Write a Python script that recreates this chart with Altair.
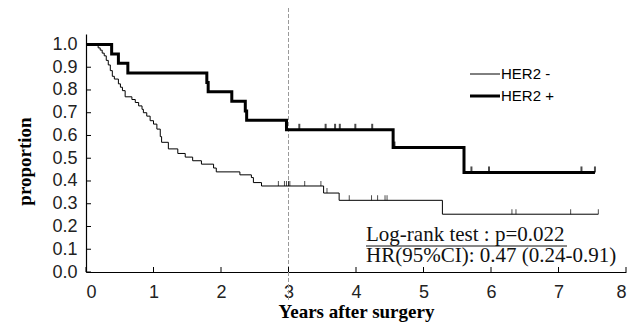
import altair as alt
import pandas as pd
import numpy as np

# ---- data ----
groups = ["HER2 -", "HER2 +"]

neg_t = [0, 0.18, 0.21, 0.24, 0.27, 0.30, 0.33, 0.36, 0.39, 0.42, 0.48, 0.51, 0.54,
         0.58, 0.68, 0.73, 0.78, 0.83, 0.85, 0.90, 0.95, 1.00, 1.05, 1.10, 1.12, 1.22,
         1.36, 1.47, 1.58, 1.71, 1.89, 1.93, 2.28, 2.45, 2.48, 2.60, 3.52, 3.75, 5.28, 7.59]
neg_s = [1.0, 0.985, 0.975, 0.962, 0.950, 0.930, 0.910, 0.885, 0.860, 0.848, 0.827, 0.812, 0.797,
         0.770, 0.758, 0.745, 0.730, 0.715, 0.700, 0.685, 0.665, 0.650, 0.628, 0.595, 0.570, 0.541,
         0.521, 0.505, 0.489, 0.474, 0.457, 0.440, 0.427, 0.415, 0.393, 0.378, 0.347, 0.315, 0.254, 0.254]

pos_t = [0, 0.38, 0.48, 0.62, 1.79, 1.81, 2.16, 2.36, 2.38, 2.97, 4.55, 5.60, 7.54]
pos_s = [1.0, 0.958, 0.917, 0.875, 0.833, 0.792, 0.750, 0.708, 0.667, 0.625, 0.547, 0.4375, 0.4375]

neg_cens = [2.85, 2.94, 2.97, 3.00, 3.02, 3.24, 3.48, 3.57, 3.90, 4.23, 4.32, 4.43, 4.46,
            6.31, 6.37, 7.18, 7.59]
pos_cens = [3.16, 3.55, 3.69, 3.76, 3.99, 4.24, 4.57, 5.71, 5.97, 7.34, 7.54]

x_ticks = [0, 1, 2, 3, 4, 5, 6, 7, 8]
y_ticks = [0.0, 0.1, 0.2, 0.3, 0.4, 0.5, 0.6, 0.7, 0.8, 0.9, 1.0]
cut_year = [3]

logrank_text = "Log-rank test : p=0.022"
hr_text = "HR(95%CI): 0.47 (0.24-0.91)"
x_title = "Years after surgery"
y_title = "proportion"


def level(ts, ss, t):
    i = int(np.searchsorted(ts, t, side="right")) - 1
    return ss[i]


curves = pd.concat([
    pd.DataFrame({"t": neg_t, "s": neg_s, "group": groups[0]}),
    pd.DataFrame({"t": pos_t, "s": pos_s, "group": groups[1]}),
])
cens_neg = pd.DataFrame({"t": neg_cens, "s": [level(neg_t, neg_s, c) for c in neg_cens]})
cens_pos = pd.DataFrame({"t": pos_cens, "s": [level(pos_t, pos_s, c) for c in pos_cens]})

W, H = 540, 238
xs = alt.Scale(domain=[0, 8], nice=False)
ys = alt.Scale(domain=[0, 1.046], nice=False)

x_axis = alt.Axis(values=x_ticks, tickCount=9, format="d", ticks=False, tickSize=0, grid=False,
                  domainColor="black", domainWidth=1.2, labelFont="Liberation Sans",
                  labelFontSize=18, labelColor="#222", labelPadding=11, labelOverlap=False,
                  titleFont="Liberation Serif", titleFontSize=19, titleFontWeight="bold",
                  titleColor="black", titlePadding=1)
y_axis = alt.Axis(values=y_ticks, tickCount=11, format=".1f", ticks=False, tickSize=0, grid=False,
                  domainColor="black", domainWidth=1.2, labelFont="Liberation Sans",
                  labelFontSize=18, labelColor="#222", labelPadding=9, labelOverlap=False,
                  titleFont="Liberation Serif", titleFontSize=19, titleFontWeight="bold",
                  titleColor="black", titleX=-62, titleY=127, titleAlign="center",
                  titleBaseline="middle", titleAngle=270)


def X(field="t"):
    return alt.X(f"{field}:Q", scale=xs, axis=x_axis, title=x_title)


def Y(field="s"):
    return alt.Y(f"{field}:Q", scale=ys, axis=y_axis, title=y_title)


dashed = alt.Chart(pd.DataFrame({"t": cut_year})).mark_rule(
    color="#9a9a9a", strokeDash=[4, 2], strokeWidth=1
).encode(x=X(), y=alt.value(-26), y2=alt.value(266))

lines = alt.Chart(curves).mark_line(interpolate="step-after", color="black").encode(
    x=X(), y=Y(),
    strokeWidth=alt.StrokeWidth("group:N", scale=alt.Scale(domain=groups, range=[1, 3]), legend=None),
    detail="group:N",
)

ticks_neg = alt.Chart(cens_neg).mark_tick(orient="vertical", color="black", size=5,
                                          thickness=1, yOffset=-2.5).encode(x=X(), y=Y())
ticks_pos = alt.Chart(cens_pos).mark_tick(orient="vertical", color="black", size=6,
                                          thickness=2, yOffset=-3).encode(x=X(), y=Y())

xt = alt.Chart(pd.DataFrame({"t": x_ticks})).mark_rule(color="black", strokeWidth=1).encode(
    x=X(), y=alt.value(H), y2=alt.value(H - 5))
yt = alt.Chart(pd.DataFrame({"s": y_ticks})).mark_rule(color="black", strokeWidth=1).encode(
    y=Y(), x=alt.value(0), x2=alt.value(5))

leg_df0 = pd.DataFrame({"label": [groups[0]]})
leg_df1 = pd.DataFrame({"label": [groups[1]]})
leg_line0 = alt.Chart(leg_df0).mark_rule(color="black", strokeWidth=1).encode(
    x=alt.value(384), x2=alt.value(414), y=alt.value(40))
leg_line1 = alt.Chart(leg_df1).mark_rule(color="black", strokeWidth=3).encode(
    x=alt.value(384), x2=alt.value(414), y=alt.value(62))
leg_txt0 = alt.Chart(leg_df0).mark_text(align="left", baseline="middle", font="Liberation Sans",
                                        fontSize=15, color="black").encode(
    text="label:N", x=alt.value(415), y=alt.value(40))
leg_txt1 = alt.Chart(leg_df1).mark_text(align="left", baseline="middle", font="Liberation Sans",
                                        fontSize=15, color="black").encode(
    text="label:N", x=alt.value(415), y=alt.value(62))

ann_df = pd.DataFrame({"a": [logrank_text], "b": [hr_text]})
ann1 = alt.Chart(ann_df).mark_text(align="left", baseline="alphabetic", font="Liberation Serif",
                                   fontSize=21, color="#111").encode(
    text="a:N", x=alt.value(280), y=alt.value(207))
underline = alt.Chart(ann_df).mark_rule(color="#111", strokeWidth=1).encode(
    x=alt.value(280), x2=alt.value(481), y=alt.value(212))
ann2 = alt.Chart(ann_df).mark_text(align="left", baseline="alphabetic", font="Liberation Serif",
                                   fontSize=21, color="#111").encode(
    text="b:N", x=alt.value(280), y=alt.value(228))

chart = alt.layer(
    dashed, lines, ticks_neg, ticks_pos, xt, yt,
    leg_line0, leg_line1, leg_txt0, leg_txt1, ann1, underline, ann2
).properties(
    width=W, height=H, autosize="none",
    padding={"left": 78, "top": 26, "right": 7, "bottom": 56},
    background="white",
).configure_view(stroke=None)

chart.save("out.html", embed_options={"renderer": "svg", "actions": False})
